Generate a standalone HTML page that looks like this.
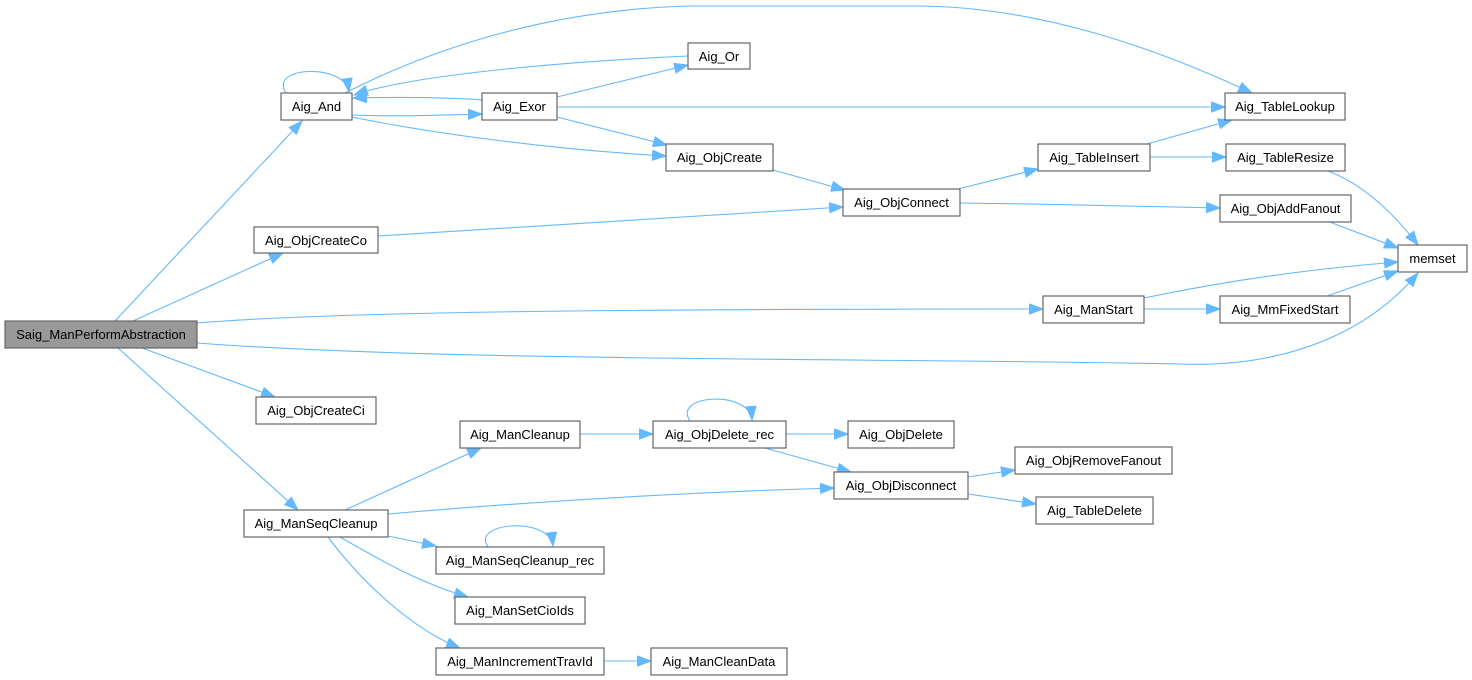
<!DOCTYPE html>
<html>
<head>
<meta charset="utf-8">
<style>
  html,body{margin:0;padding:0;background:#fff;}
  svg{display:block;}
  .n rect{fill:#fff;stroke:#666;stroke-width:1.2;}
  .n text{font-family:"Liberation Sans",Arial,sans-serif;font-size:13px;fill:#000;text-anchor:middle;}
  .e path{fill:none;stroke:#63b8ff;stroke-width:1.1;marker-end:url(#ah);}
</style>
</head>
<body>
<svg width="1472" height="680" viewBox="0 0 1472 680" xmlns="http://www.w3.org/2000/svg">
  <defs>
    <marker id="ah" markerUnits="userSpaceOnUse" markerWidth="16" markerHeight="12" refX="14" refY="5.5" orient="auto">
      <path d="M0.5,0.5 L14,5.5 L0.5,10.5 z" fill="#63b8ff" stroke="#63b8ff" stroke-width="1"/>
    </marker>
  </defs>

  <g class="e">
    <!-- Saig edges -->
    <path d="M115,321 L302,121"/>
    <path d="M133,321 L283,253"/>
    <path d="M197,323 C330,312 600,309 1043,309"/>
    <path d="M197,343 C450,362 900,358 1180,364 C1290,368 1370,330 1418,273"/>
    <path d="M142,348 L275,397"/>
    <path d="M118,348 L298,510"/>
    <!-- Aig_And -->
    <path d="M286,93 C268,66 345,63 349,92"/>
    <path d="M352,115 C400,117 440,115 482,114"/>
    <path d="M352,117 C440,135 560,150 666,156"/>
    <path d="M345,93 C410,60 530,10 690,6 L915,6 C1040,6 1160,50 1252,93"/>
    <!-- Exor / Or back to And -->
    <path d="M482,100 C440,97 400,97 353,98"/>
    <path d="M688,56 C600,60 420,72 354,95"/>
    <path d="M557,97 L688,65"/>
    <path d="M557,107 L1225,107"/>
    <path d="M557,117 L667,145"/>
    <!-- ObjCreate / ObjConnect -->
    <path d="M773,170 L845,190"/>
    <path d="M378,236 C550,226 700,215 843,207"/>
    <path d="M958,189 L1038,169"/>
    <path d="M960,203 C1050,204 1150,206 1220,208"/>
    <path d="M1147,144 L1232,120"/>
    <path d="M1150,157 L1226,157"/>
    <path d="M1328,171 C1365,185 1395,215 1418,245"/>
    <path d="M1327,221 L1398,248"/>
    <path d="M1144,298 C1230,280 1320,268 1398,262"/>
    <path d="M1144,309 L1220,309"/>
    <path d="M1327,296 L1398,271"/>
    <!-- ManSeqCleanup -->
    <path d="M345,510 L481,448"/>
    <path d="M388,514 C550,500 700,492 834,488"/>
    <path d="M388,536 L436,546"/>
    <path d="M340,537 C380,560 420,583 468,597"/>
    <path d="M328,537 C360,580 410,628 460,648"/>
    <path d="M488,547 C470,522 550,516 553,546"/>
    <path d="M604,661 L651,661"/>
    <path d="M580,434 L653,434"/>
    <path d="M690,421 C672,394 750,390 752,420"/>
    <path d="M786,434 L848,434"/>
    <path d="M765,448 L851,472"/>
    <path d="M968,477 L1015,470"/>
    <path d="M968,494 L1036,504"/>
  </g>

  <g class="n">
    <rect x="5" y="321" width="192" height="27" style="fill:#999999"/>
    <text x="101" y="339">Saig_ManPerformAbstraction</text>

    <rect x="281" y="93" width="71" height="27"/><text x="316.5" y="111">Aig_And</text>
    <rect x="254" y="227" width="124" height="26"/><text x="316" y="245">Aig_ObjCreateCo</text>
    <rect x="256" y="397" width="120" height="27"/><text x="316" y="415">Aig_ObjCreateCi</text>
    <rect x="244" y="510" width="144" height="27"/><text x="316" y="528">Aig_ManSeqCleanup</text>

    <rect x="688" y="43" width="62" height="26"/><text x="719" y="61">Aig_Or</text>
    <rect x="482" y="93" width="75" height="27"/><text x="519.5" y="111">Aig_Exor</text>
    <rect x="666" y="144" width="107" height="27"/><text x="719.5" y="162">Aig_ObjCreate</text>
    <rect x="843" y="189" width="117" height="27"/><text x="901.5" y="207">Aig_ObjConnect</text>

    <rect x="1225" y="93" width="120" height="27"/><text x="1285" y="111">Aig_TableLookup</text>
    <rect x="1038" y="144" width="112" height="27"/><text x="1094" y="162">Aig_TableInsert</text>
    <rect x="1226" y="144" width="119" height="27"/><text x="1285.5" y="162">Aig_TableResize</text>
    <rect x="1220" y="195" width="131" height="27"/><text x="1285.5" y="213">Aig_ObjAddFanout</text>
    <rect x="1398" y="245" width="69" height="27"/><text x="1432.5" y="263">memset</text>
    <rect x="1043" y="296" width="101" height="27"/><text x="1093.5" y="314">Aig_ManStart</text>
    <rect x="1220" y="296" width="130" height="27"/><text x="1285" y="314">Aig_MmFixedStart</text>

    <rect x="460" y="421" width="120" height="27"/><text x="520" y="439">Aig_ManCleanup</text>
    <rect x="653" y="421" width="133" height="27"/><text x="719.5" y="439">Aig_ObjDelete_rec</text>
    <rect x="848" y="421" width="106" height="27"/><text x="901" y="439">Aig_ObjDelete</text>
    <rect x="834" y="472" width="134" height="27"/><text x="901" y="490">Aig_ObjDisconnect</text>
    <rect x="1015" y="447" width="157" height="27"/><text x="1093.5" y="465">Aig_ObjRemoveFanout</text>
    <rect x="1036" y="497" width="117" height="27"/><text x="1094.5" y="515">Aig_TableDelete</text>

    <rect x="436" y="547" width="168" height="27"/><text x="520" y="565">Aig_ManSeqCleanup_rec</text>
    <rect x="455" y="597" width="130" height="27"/><text x="520" y="615">Aig_ManSetCioIds</text>
    <rect x="436" y="648" width="168" height="27"/><text x="520" y="666">Aig_ManIncrementTravId</text>
    <rect x="651" y="648" width="136" height="27"/><text x="719" y="666">Aig_ManCleanData</text>
  </g>
</svg>
</body>
</html>
